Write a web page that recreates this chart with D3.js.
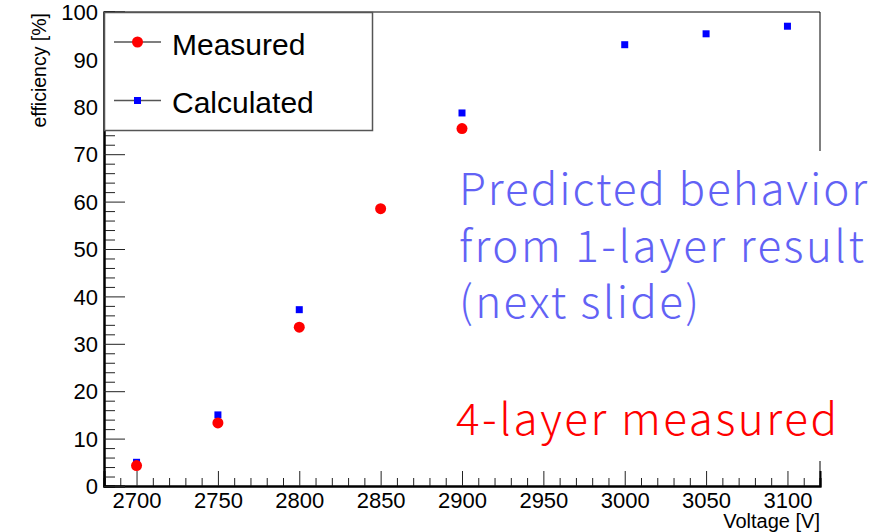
<!DOCTYPE html>
<html>
<head>
<meta charset="utf-8">
<script src="https://cdn.jsdelivr.net/npm/d3@7"></script>
<style>
  body { margin: 0; background: #fff; }
  svg { display: block; font-family: "Liberation Sans", Arial, Helvetica, sans-serif; }
</style>
</head>
<body>
<svg id="chart" width="895" height="532"></svg>
<script>
// data
const measuredV = [2700, 2750, 2800, 2850, 2900]
const measuredEff = [4.3, 13.3, 33.5, 58.5, 75.4]
const calcV = [2700, 2750, 2800, 2900, 3000, 3050, 3100]
const calcEff = [5.0, 15.0, 37.2, 78.7, 93.1, 95.4, 97.0]
const xTicks = [2700, 2750, 2800, 2850, 2900, 2950, 3000, 3050, 3100]
const yTicks = [0, 10, 20, 30, 40, 50, 60, 70, 80, 90, 100]
const legendNames = ["Measured", "Calculated"]
const noteLines = ["Predicted behavior", "from 1-layer result", "(next slide)"]
const noteRed = "4-layer measured"

const svg = d3.select('#chart')

let x = d3.scaleLinear()
    .domain([2680, 3120])
    .range([104, 820])

let y = d3.scaleLinear()
    .domain([0, 100])
    .range([486, 12])

/*********************
 *  axes (ROOT style, ticks inward)
 *********************/
let axisBottom = d3.axisBottom(x)
    .tickValues(xTicks)
    .tickSize(-15)
    .tickFormat(d3.format("d"))

let axisBottomMinor = d3.axisBottom(x)
    .tickValues(d3.range(2680, 3121, 10).filter(v => v % 50 != 0))
    .tickSize(-8)
    .tickFormat('')

let axisLeft = d3.axisLeft(y)
    .tickValues(yTicks)
    .tickSize(-21)
    .tickFormat(d3.format("d"))

let axisLeftMinor = d3.axisLeft(y)
    .tickValues(d3.range(0, 101, 2).filter(v => v % 10 != 0))
    .tickSize(-11)
    .tickFormat('')

// frame top + right
svg.append('path')
    .attr('d', `M${x.range()[0]},${y.range()[1]}H${x.range()[1]}V${y.range()[0]}`)
    .attr('fill', 'none')
    .attr('stroke', 'black')
    .attr('stroke-width', 1)

const gx = svg.append('g').attr('transform', `translate(0, ${y(0)})`)
gx.append('g').call(axisBottomMinor)
gx.append('g').call(axisBottom)

const gy = svg.append('g').attr('transform', `translate(${x(2680)}, 0)`)
gy.append('g').call(axisLeftMinor)
gy.append('g').call(axisLeft)

svg.selectAll('.domain').attr('stroke', 'black').attr('stroke-width', 2)
svg.selectAll('.tick line').attr('stroke', '#222').attr('stroke-width', 1)
svg.selectAll('.tick text')
    .attr('font-size', 22)
    .attr('fill', 'black')
    .attr('font-family', '"Liberation Sans", Arial, sans-serif')
gx.selectAll('.tick text').attr('y', 6).attr('dy', '0.71em')
gy.selectAll('.tick text').attr('x', -6).attr('dy', '0.35em')

// axis titles
svg.append('text')
    .attr('x', 820)
    .attr('y', 528)
    .attr('text-anchor', 'end')
    .attr('font-size', 20)
    .text('Voltage [V]')

svg.append('text')
    .attr('transform', 'translate(46, 13) rotate(-90)')
    .attr('text-anchor', 'end')
    .attr('font-size', 19.5)
    .text('efficiency [%]')

/*********************
 *  points
 *********************/
svg.append('g')
    .selectAll('.calcPt')
    .data(calcV.map((v, i) => ({v: v, e: calcEff[i]})))
    .join('rect')
    .attr('class', 'calcPt')
    .attr('x', d => x(d.v) - 3.5)
    .attr('y', d => y(d.e) - 3.5)
    .attr('width', 7)
    .attr('height', 7)
    .attr('fill', '#0000ff')

svg.append('g')
    .selectAll('.measPt')
    .data(measuredV.map((v, i) => ({v: v, e: measuredEff[i]})))
    .join('circle')
    .attr('class', 'measPt')
    .attr('cx', d => x(d.v))
    .attr('cy', d => y(d.e))
    .attr('r', 5.5)
    .attr('fill', '#ff0000')

/*********************
 *  legend
 *********************/
const leg = svg.append('g')
leg.append('rect')
    .attr('x', 104.5)
    .attr('y', 12.5)
    .attr('width', 268)
    .attr('height', 118)
    .attr('fill', 'white')
    .attr('stroke', '#555')
    .attr('stroke-width', 1.5)

legendNames.forEach((name, i) => {
    let ly = [42, 100.5][i]
    leg.append('line')
        .attr('x1', 114).attr('x2', 161)
        .attr('y1', ly).attr('y2', ly)
        .attr('stroke', '#555').attr('stroke-width', 1.5)
    if (i == 0) {
        leg.append('circle').attr('cx', 137.5).attr('cy', ly).attr('r', 5.5).attr('fill', '#ff0000')
    } else {
        leg.append('rect').attr('x', 134).attr('y', ly - 3.5).attr('width', 7).attr('height', 7).attr('fill', '#0000ff')
    }
    leg.append('text')
        .attr('x', 172)
        .attr('y', ly + 12.5)
        .attr('font-size', 30)
        .text(name)
})

/*********************
 *  slide annotation box
 *********************/
svg.append('rect')
    .attr('x', 440)
    .attr('y', 151)
    .attr('width', 455)
    .attr('height', 310)
    .attr('fill', 'white')

const noteFont = '"Noto Sans CJK JP", "Noto Sans", sans-serif'
const noteWidths = [408, 405, 240]
noteLines.forEach((t, i) => {
    svg.append('text')
        .attr('x', 459)
        .attr('y', 205 + i * 56.5)
        .attr('font-family', noteFont)
        .attr('font-weight', 300)
        .attr('font-size', 44)
        .attr('fill', '#6262f5')
        .attr('textLength', noteWidths[i])
        .attr('lengthAdjust', 'spacing')
        .text(t)
})

svg.append('text')
    .attr('x', 456)
    .attr('y', 435)
    .attr('font-family', noteFont)
    .attr('font-weight', 300)
    .attr('font-size', 44)
    .attr('fill', '#ff0000')
    .attr('textLength', 381)
    .attr('lengthAdjust', 'spacing')
    .text(noteRed)
</script>
</body>
</html>
